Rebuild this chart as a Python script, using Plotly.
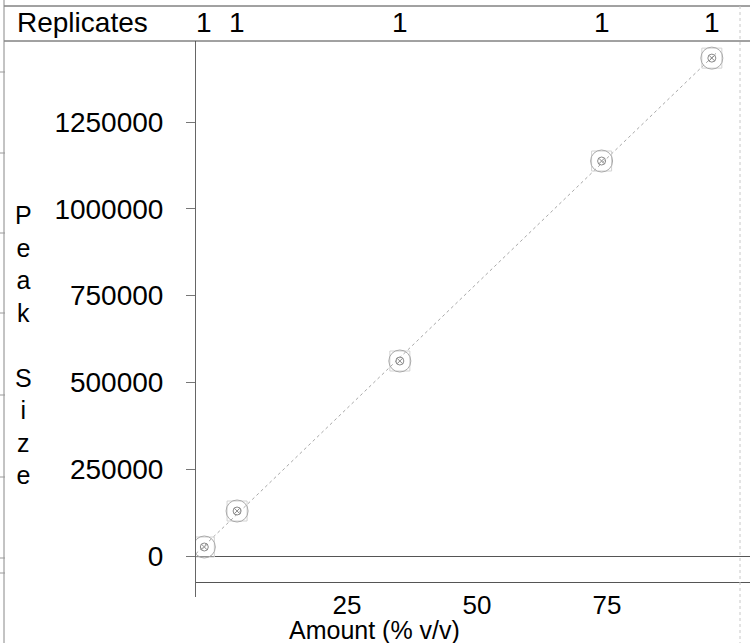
import numpy as np
import plotly.graph_objects as go

# Calibration standards: amount (% v/v) vs detector peak size
amount = [1.6, 7.9, 39.2, 78.0, 99.2]
peak_size = [25900, 129600, 561600, 1137600, 1434000]
replicates = ["1", "1", "1", "1", "1"]

x_ticks = [25, 50, 75]
y_ticks = [0, 250000, 500000, 750000, 1000000, 1250000]

W, H = 750, 643
FONT = "Liberation Sans, Arial, sans-serif"


def px(v):
    return v / W


def py(v):
    return (H - v) / H


# least-squares calibration line
slope, intercept = np.polyfit(amount, peak_size, 1)
fit_x = [0, 100]
fit_y = [intercept + slope * v for v in fit_x]

fig = go.Figure()

fig.add_trace(go.Scatter(
    x=fit_x, y=fit_y, mode="lines",
    line=dict(color="#a8a8a8", width=1, dash="dot"),
    hoverinfo="skip", showlegend=False,
))
# standard markers: square frame, outer ring and inner slashed circle
fig.add_trace(go.Scatter(
    x=amount, y=peak_size, mode="markers",
    marker=dict(symbol="square-open", size=20, color="#d2d2d2",
                line=dict(width=1)),
    showlegend=False,
))
fig.add_trace(go.Scatter(
    x=amount, y=peak_size, mode="markers",
    marker=dict(symbol="circle-open", size=22, color="#aaaaaa",
                line=dict(width=1)),
    showlegend=False,
))
fig.add_trace(go.Scatter(
    x=amount, y=peak_size, mode="markers",
    marker=dict(symbol="circle-x-open", size=8, color="#8a8a8a",
                line=dict(width=1)),
    showlegend=False,
))

x_range = [0, (W - 196) / 5.2]
y_per_px = 250000 / 86.8
y_range = [(556 - 597) * y_per_px, (556 - 41) * y_per_px]

fig.update_layout(
    width=W, height=H,
    margin=dict(l=0, r=0, t=0, b=0),
    paper_bgcolor="white", plot_bgcolor="white",
    font=dict(family=FONT, size=28, color="black"),
    showlegend=False,
    xaxis=dict(
        domain=[px(196), 1.0], range=x_range,
        anchor="free", position=py(582),
        showline=True, linecolor="#555", linewidth=1,
        showgrid=False, zeroline=False,
        tickmode="array", tickvals=x_ticks, ticktext=[str(t) for t in x_ticks],
        ticks="", ticklabelshift=21, ticklabelstandoff=0,
        tickfont=dict(family=FONT, size=26, color="black"),
    ),
    yaxis=dict(
        domain=[py(597), py(41)], range=y_range,
        showline=True, linecolor="#666", linewidth=1,
        showgrid=False,
        zeroline=True, zerolinecolor="#555", zerolinewidth=1,
        tickmode="array", tickvals=y_ticks, ticktext=[str(t) for t in y_ticks],
        ticks="outside", ticklen=9, tickcolor="#777",
        ticklabelstandoff=17,
        tickfont=dict(family=FONT, size=28, color="black"),
    ),
)

# axis titles
fig.add_annotation(
    text="Amount (% v/v)", xref="paper", yref="paper",
    x=px(374), y=py(630), xanchor="center", yanchor="middle", showarrow=False,
    font=dict(family=FONT, size=25, color="black"),
)
fig.add_annotation(
    text="P<br>e<br>a<br>k<br> <br>S<br>i<br>z<br>e", xref="paper", yref="paper",
    x=px(23), y=py(345), xanchor="center", yanchor="middle",
    showarrow=False, align="center",
    font=dict(family=FONT, size=25, color="black"),
)

# replicate count header row
fig.add_annotation(
    text="Replicates", xref="paper", yref="paper",
    x=px(15), y=py(22), xanchor="left", yanchor="middle", showarrow=False,
    font=dict(family=FONT, size=28, color="black"),
)
for a, r in zip(amount, replicates):
    fig.add_annotation(
        text=r, xref="x", yref="paper", x=a, y=py(22),
        xanchor="center", yanchor="middle",
        showarrow=False, font=dict(family=FONT, size=28, color="black"),
    )

# header box and page frame
frame = dict(color="#444", width=1)
fig.add_shape(type="line", xref="paper", yref="paper",
              x0=px(4), x1=1, y0=py(6), y1=py(6), line=frame)
fig.add_shape(type="line", xref="paper", yref="paper",
              x0=px(4), x1=1, y0=py(41), y1=py(41), line=frame)
fig.add_shape(type="line", xref="paper", yref="paper",
              x0=px(4), x1=px(4), y0=py(0), y1=py(643), line=dict(color="#888", width=1))
for yy in [72, 153, 233, 313, 395, 477, 558, 573]:
    fig.add_shape(type="line", xref="paper", yref="paper",
                  x0=0, x1=px(5), y0=py(yy), y1=py(yy), line=dict(color="#999", width=1))
fig.add_shape(type="line", xref="paper", yref="paper",
              x0=px(740), x1=px(740), y0=py(6), y1=py(643),
              line=dict(color="#c8c8c8", width=1, dash="dot"))

fig.write_html("out.html")
